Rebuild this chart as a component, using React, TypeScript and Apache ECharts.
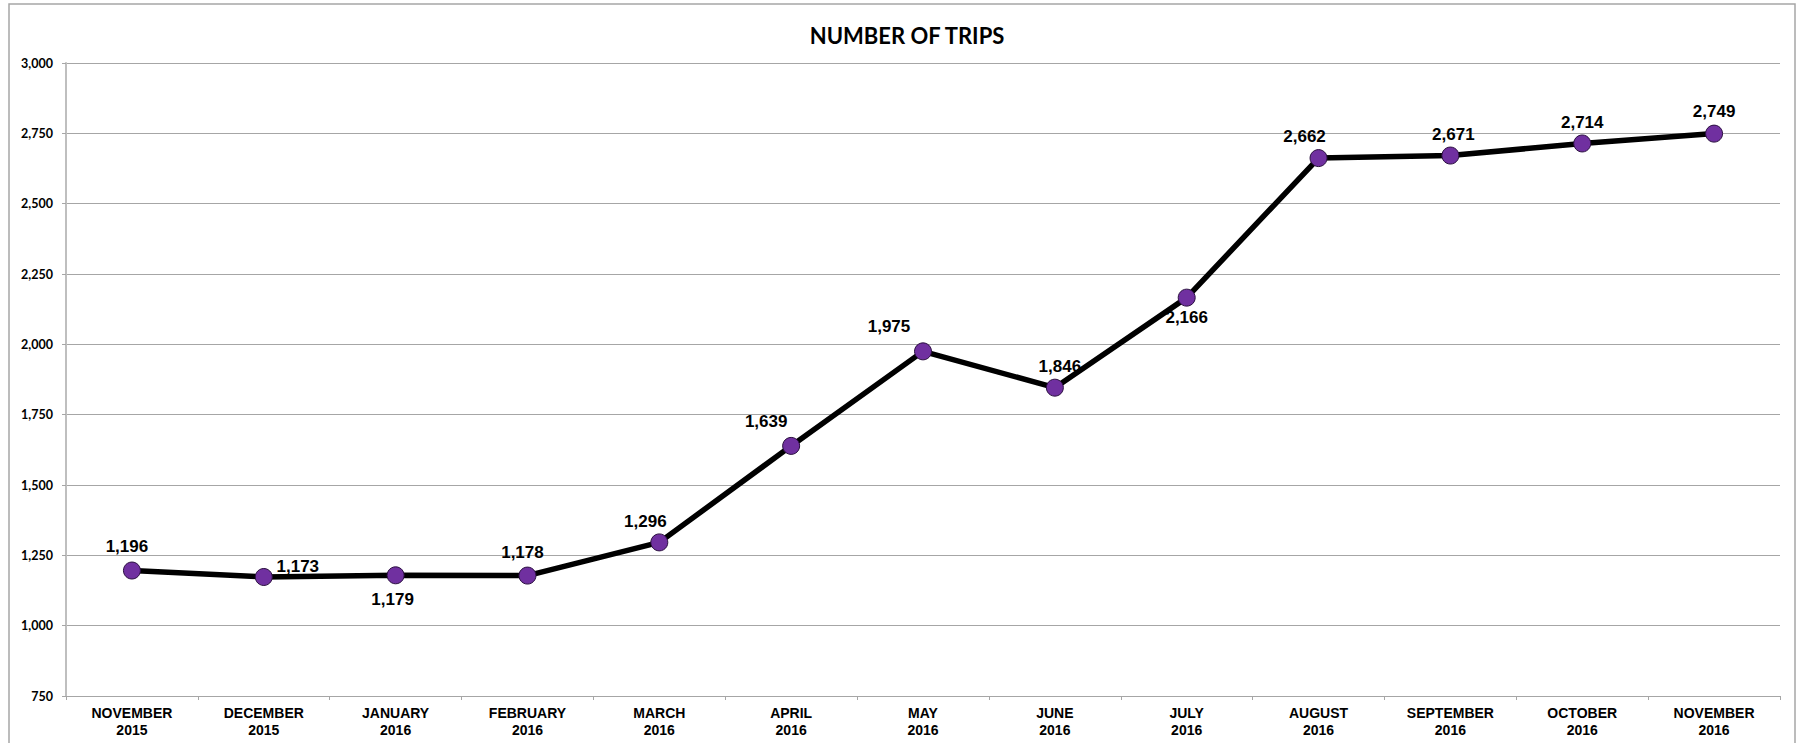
import React, { useEffect, useRef } from "react";
import * as echarts from "echarts";

const categories = [
  "NOVEMBER\n2015", "DECEMBER\n2015", "JANUARY\n2016", "FEBRUARY\n2016", "MARCH\n2016",
  "APRIL\n2016", "MAY\n2016", "JUNE\n2016", "JULY\n2016", "AUGUST\n2016",
  "SEPTEMBER\n2016", "OCTOBER\n2016", "NOVEMBER\n2016",
];
const trips = [1196, 1173, 1179, 1178, 1296, 1639, 1975, 1846, 2166, 2662, 2671, 2714, 2749];
const labelOffsets: [number, number][] = [
  [-5, -24], [34, -10], [-3, 24], [-5, -23], [-14, -21], [-25, -24], [-34, -25],
  [5, -21], [0, 20], [-14, -22], [3, -21], [0, -21], [0, -22],
];
const yTicks = { min: 750, max: 3000, interval: 250 };

const fmt = (v: number) => v.toLocaleString("en-US");

export default function App() {
  const ref = useRef<HTMLDivElement>(null);
  useEffect(() => {
    if (!ref.current) return;
    const chart = echarts.init(ref.current, null, { renderer: "svg" });
    chart.setOption({
      animation: false,
      backgroundColor: "#ffffff",
      title: {
        text: "NUMBER OF TRIPS",
        left: 902,
        top: 19,
        textAlign: "center",
        textStyle: { fontFamily: "Lato", fontWeight: "bold", fontSize: 22, color: "#000" },
      },
      graphic: [
        {
          type: "rect",
          shape: { x: 9, y: 4, width: 1786, height: 760 },
          style: { fill: "none", stroke: "#a6a6a6", lineWidth: 1.5 },
          silent: true,
        },
      ],
      grid: { left: 66, right: 21, top: 63, bottom: 47, containLabel: false },
      xAxis: {
        type: "category",
        data: categories,
        boundaryGap: true,
        axisLine: { lineStyle: { color: "#a6a6a6", width: 1 } },
        axisTick: { show: true, length: 4, lineStyle: { color: "#a6a6a6" } },
        axisLabel: {
          fontFamily: "Liberation Sans",
          fontWeight: "bold",
          fontSize: 14,
          lineHeight: 17,
          color: "#000",
          margin: 8,
          interval: 0,
        },
      },
      yAxis: {
        type: "value",
        min: yTicks.min,
        max: yTicks.max,
        interval: yTicks.interval,
        axisLine: { show: true, lineStyle: { color: "#bfbfbf", width: 2 } },
        axisTick: { show: true, length: 4, lineStyle: { color: "#a6a6a6" } },
        splitLine: { lineStyle: { color: "#a6a6a6", width: 1 } },
        axisLabel: {
          fontFamily: "Lato",
          fontWeight: "bold",
          fontSize: 12.5,
          color: "#000",
          margin: 13,
          formatter: (v: number) => fmt(v),
        },
      },
      series: [
        {
          type: "line",
          data: trips.map((v, i) => ({
            value: v,
            label: { offset: labelOffsets[i] },
          })),
          lineStyle: { color: "#000", width: 5.5 },
          symbol: "circle",
          symbolSize: 17,
          itemStyle: { color: "#7030a0", borderColor: "#2a0f3f", borderWidth: 1 },
          label: {
            show: true,
            position: "inside",
            fontFamily: "Liberation Sans",
            fontWeight: "bold",
            fontSize: 17,
            color: "#000",
            formatter: (p: any) => fmt(p.value),
          },
          z: 3,
        },
      ],
    });
    return () => chart.dispose();
  }, []);
  return (
    <div
      ref={ref}
      style={{ position: "absolute", left: 0, top: 0, width: 1801, height: 743 }}
    />
  );
}
